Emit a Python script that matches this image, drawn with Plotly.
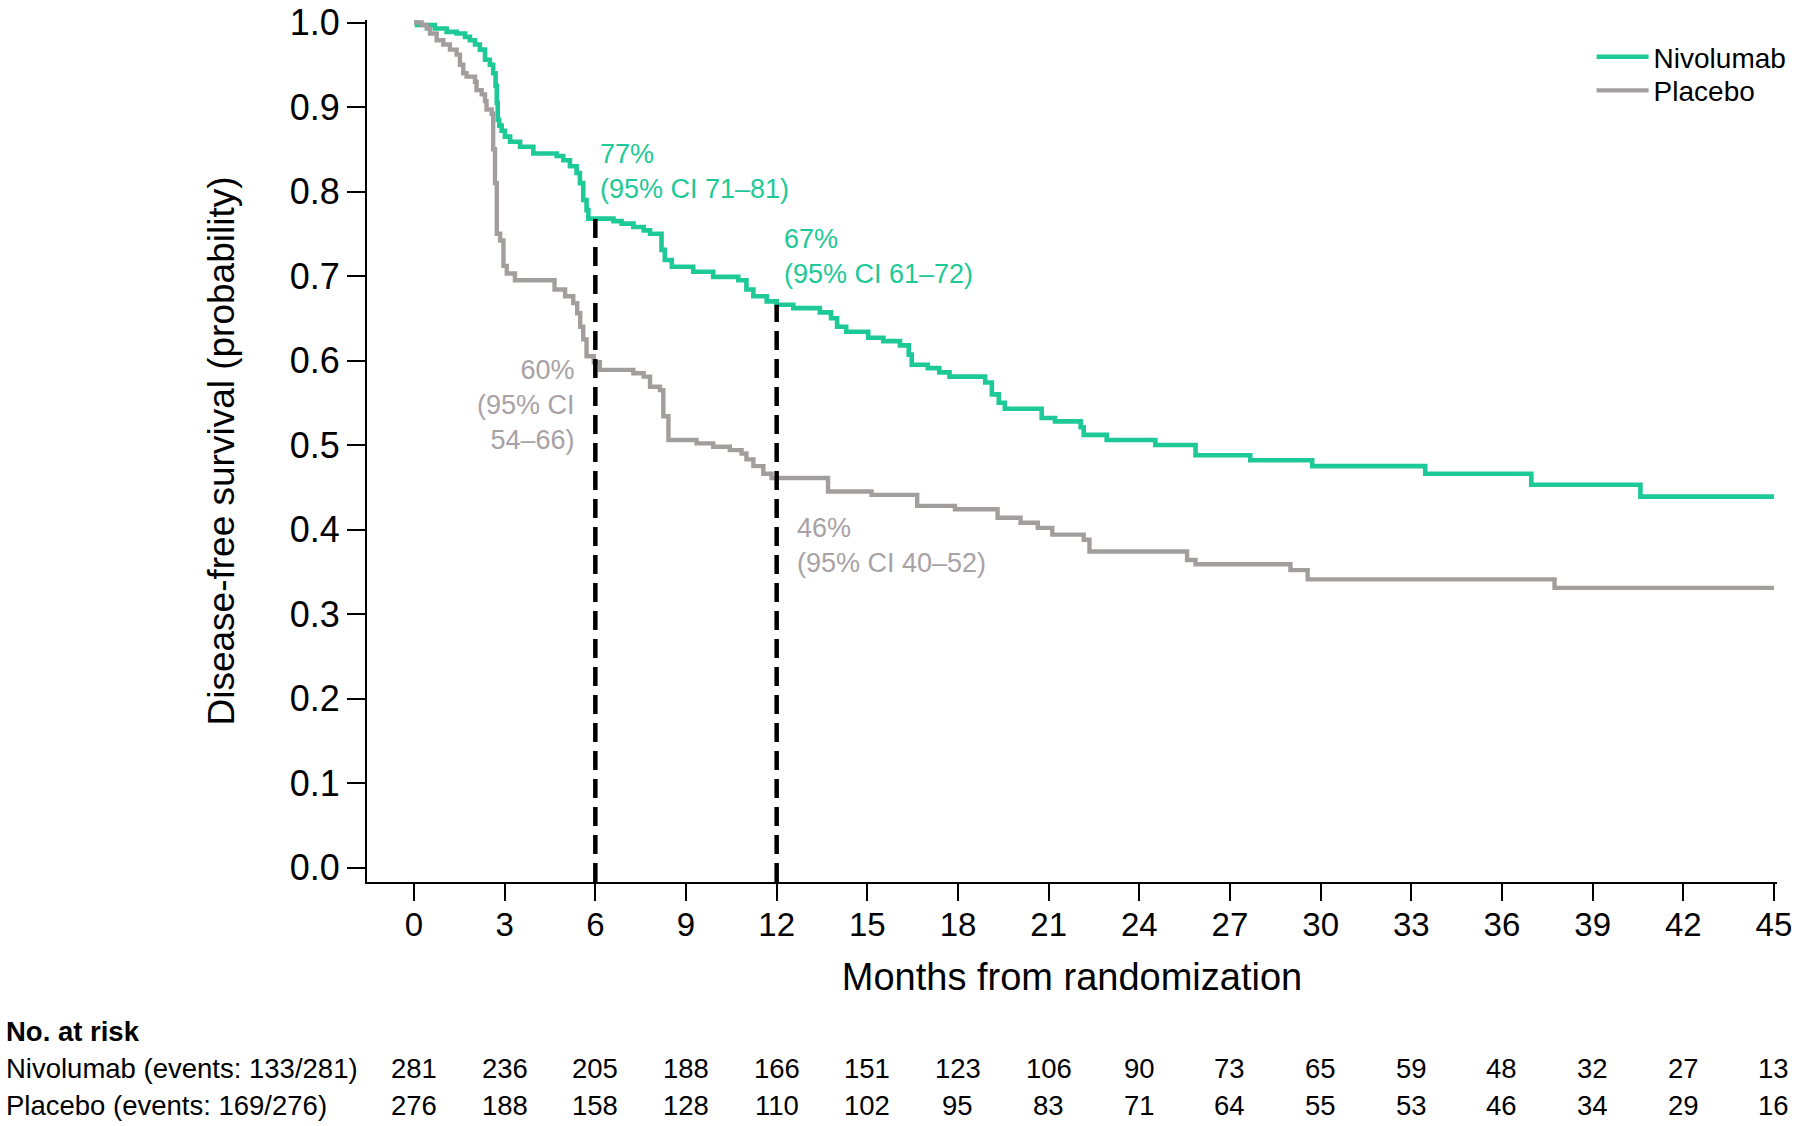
import plotly.graph_objects as go

# ---------------- data ----------------
months_nivo = [0, 0.10, 0.69, 1.08, 1.41, 1.69, 1.85, 2.02, 2.18, 2.35, 2.51, 2.62, 2.70, 2.74, 2.77,
               2.82, 2.90, 3.01, 3.18, 3.51, 3.95, 4.72, 4.94, 5.16, 5.38, 5.49, 5.60, 5.71, 5.77,
               6.60, 6.87, 7.26, 7.60, 7.81, 8.19, 8.30, 8.53, 9.24, 9.90, 10.73, 11.00, 11.23,
               11.67, 12.00, 12.55, 13.43, 13.80, 14.00, 14.30, 15.03, 15.53, 16.08, 16.37, 16.47,
               17.00, 17.38, 17.72, 18.90, 19.12, 19.35, 19.55, 20.77, 21.21, 22.06, 22.16, 22.92,
               24.53, 25.86, 27.67, 29.72, 33.46, 36.97, 40.58, 45.0]
surv_nivo = [1.000, 0.997, 0.993, 0.989, 0.987, 0.983, 0.979, 0.974, 0.968, 0.956, 0.950, 0.940, 0.925,
             0.905, 0.885, 0.878, 0.872, 0.865, 0.859, 0.853, 0.845, 0.842, 0.837, 0.830, 0.822,
             0.810, 0.790, 0.778, 0.768, 0.765, 0.762, 0.758, 0.754, 0.750, 0.731, 0.719, 0.711,
             0.705, 0.699, 0.695, 0.684, 0.676, 0.670, 0.666, 0.662, 0.657, 0.650, 0.640, 0.634,
             0.627, 0.623, 0.618, 0.607, 0.595, 0.591, 0.586, 0.581, 0.574, 0.560, 0.550, 0.543,
             0.532, 0.528, 0.521, 0.512, 0.506, 0.500, 0.488, 0.482, 0.475, 0.466, 0.453, 0.439,
             0.439]

months_plac = [0, 0.25, 0.42, 0.53, 0.75, 0.97, 1.19, 1.41, 1.52, 1.63, 1.74, 2.02, 2.07, 2.24, 2.35,
               2.40, 2.57, 2.62, 2.68, 2.74, 2.85, 2.96, 3.07, 3.34, 4.65, 5.00, 5.27, 5.40, 5.50,
               5.60, 5.71, 5.95, 6.15, 7.26, 7.60, 7.81, 8.14, 8.25, 8.42, 9.35, 9.90, 10.45, 10.84,
               11.00, 11.23, 11.56, 11.83, 13.70, 15.14, 16.65, 17.90, 19.31, 20.07, 20.64, 21.12,
               22.16, 22.35, 25.58, 25.86, 29.00, 29.57, 37.74, 45.0]
surv_plac = [1.000, 0.997, 0.993, 0.987, 0.979, 0.974, 0.968, 0.962, 0.950, 0.940, 0.936, 0.930, 0.920,
             0.915, 0.907, 0.897, 0.892, 0.850, 0.810, 0.750, 0.742, 0.712, 0.703, 0.695, 0.684,
             0.676, 0.668, 0.656, 0.640, 0.625, 0.605, 0.598, 0.589, 0.585, 0.581, 0.569, 0.565,
             0.534, 0.506, 0.502, 0.498, 0.494, 0.490, 0.483, 0.475, 0.466, 0.461, 0.445, 0.441,
             0.428, 0.424, 0.414, 0.408, 0.402, 0.394, 0.388, 0.374, 0.364, 0.359, 0.352, 0.341,
             0.331, 0.331]

landmark_months = [6, 12]
nivo_landmark_labels = ["77%<br>(95% CI 71–81)", "67%<br>(95% CI 61–72)"]
plac_landmark_labels = ["60%<br>(95% CI<br>54–66)", "46%<br>(95% CI 40–52)"]

risk_months = [0, 3, 6, 9, 12, 15, 18, 21, 24, 27, 30, 33, 36, 39, 42, 45]
risk_nivo = [281, 236, 205, 188, 166, 151, 123, 106, 90, 73, 65, 59, 48, 32, 27, 13]
risk_plac = [276, 188, 158, 128, 110, 102, 95, 83, 71, 64, 55, 53, 46, 34, 29, 16]
risk_row_labels = ["Nivolumab (events: 133/281)", "Placebo (events: 169/276)"]

y_ticks = [0.0, 0.1, 0.2, 0.3, 0.4, 0.5, 0.6, 0.7, 0.8, 0.9, 1.0]
x_ticks = risk_months

# ---------------- style ----------------
GREEN = "#1DC996"
GRAY = "#A39E9E"
GRAY_TXT = "#A8A2A6"
FONT = "Liberation Sans, Arial, Helvetica, sans-serif"
Y_MIN, Y_MAX = -0.0171, 1.003
X_MIN, X_MAX = -1.555, 45.10


def surv_at(t, times, vals):
    v = vals[0]
    for ti, vi in zip(times, vals):
        if ti <= t:
            v = vi
    return v


fig = go.Figure()
fig.add_trace(go.Scatter(x=months_nivo, y=surv_nivo, mode="lines", name="Nivolumab",
                         legend="legend",
                         line=dict(color=GREEN, width=4.6, shape="hv")))
fig.add_trace(go.Scatter(x=months_plac, y=surv_plac, mode="lines", name="Placebo",
                         legend="legend2",
                         line=dict(color=GRAY, width=4.4, shape="hv")))

for m in landmark_months:
    top = surv_at(m, months_nivo, surv_nivo)
    fig.add_trace(go.Scatter(x=[m, m], y=[Y_MIN, top], mode="lines", showlegend=False,
                             hoverinfo="skip",
                             line=dict(color="black", width=4.5, dash="19px,9px")))

annotations = []
# landmark labels (offsets in px relative to the landmark point on each curve)
nivo_shifts = [(3, 47), (5, 48)]
plac_shifts = [(-18, -43), (18, -67)]
for m, lab, (dx, dy) in zip(landmark_months, nivo_landmark_labels, nivo_shifts):
    annotations.append(dict(x=m, y=surv_at(m, months_nivo, surv_nivo), xref="x", yref="y",
                            text=lab, showarrow=False, xanchor="left", yanchor="middle",
                            align="left", xshift=dx, yshift=dy,
                            font=dict(family=FONT, size=27, color=GREEN)))
for i, (m, lab, (dx, dy)) in enumerate(zip(landmark_months, plac_landmark_labels, plac_shifts)):
    annotations.append(dict(x=m, y=surv_at(m, months_plac, surv_plac), xref="x", yref="y",
                            text=lab, showarrow=False,
                            xanchor="right" if i == 0 else "left", yanchor="middle",
                            align="right" if i == 0 else "left", xshift=dx, yshift=dy,
                            font=dict(family=FONT, size=27, color=GRAY_TXT)))

# number at risk table
ROW_Y = [-0.2158, -0.2595]
LABEL_X = -0.2574
annotations.append(dict(x=LABEL_X, y=-0.1737, xref="paper", yref="paper", text="<b>No. at risk</b>",
                        showarrow=False, xanchor="left", yanchor="middle",
                        font=dict(family=FONT, size=27.5, color="black")))
for lab, row, ry in zip(risk_row_labels, [risk_nivo, risk_plac], ROW_Y):
    annotations.append(dict(x=LABEL_X, y=ry, xref="paper", yref="paper", text=lab,
                            showarrow=False, xanchor="left", yanchor="middle",
                            font=dict(family=FONT, size=27.5, color="black")))
    for m, n in zip(risk_months, row):
        annotations.append(dict(x=m, y=ry, xref="x", yref="paper", text=str(n),
                                showarrow=False, xanchor="center", yanchor="middle",
                                font=dict(family=FONT, size=27.5, color="black")))

legend_common = dict(xanchor="left", yanchor="top",
                     font=dict(family=FONT, size=28, color="black"),
                     bgcolor="rgba(0,0,0,0)", itemwidth=52, borderwidth=0)

fig.update_layout(
    width=1800, height=1126,
    margin=dict(l=367, r=23, t=20, b=244, autoexpand=False),
    paper_bgcolor="white", plot_bgcolor="white",
    font=dict(family=FONT, color="black"),
    showlegend=True,
    legend=dict(x=0.8685, y=0.986, **legend_common),
    legend2=dict(x=0.8685, y=0.947, **legend_common),
    annotations=annotations,
)
fig.update_xaxes(
    range=[X_MIN, X_MAX], tickvals=x_ticks, ticktext=[str(v) for v in x_ticks],
    showline=True, linecolor="black", linewidth=2, mirror=False, automargin=False,
    ticks="outside", ticklen=17, tickwidth=2, tickcolor="black", ticklabelstandoff=-5,
    ticklabeloverflow="allow",
    showgrid=False, zeroline=False,
    tickfont=dict(family=FONT, size=33, color="black"),
    title=dict(text="Months from randomization", standoff=22,
               font=dict(family=FONT, size=38, color="black")),
)
fig.update_yaxes(
    range=[Y_MIN, Y_MAX], tickvals=y_ticks, ticktext=[f"{v:.1f}" for v in y_ticks],
    showline=True, linecolor="black", linewidth=2, automargin=False,
    ticks="outside", ticklen=18, tickwidth=2, tickcolor="black",
    ticklabeloverflow="allow",
    showgrid=False, zeroline=False,
    tickfont=dict(family=FONT, size=36, color="black"),
    title=dict(text="Disease-free survival (probability)", standoff=44,
               font=dict(family=FONT, size=37, color="black")),
)

fig.write_html("out.html", config={"displayModeBar": False},
               post_script="document.body.style.margin = '0px';")
